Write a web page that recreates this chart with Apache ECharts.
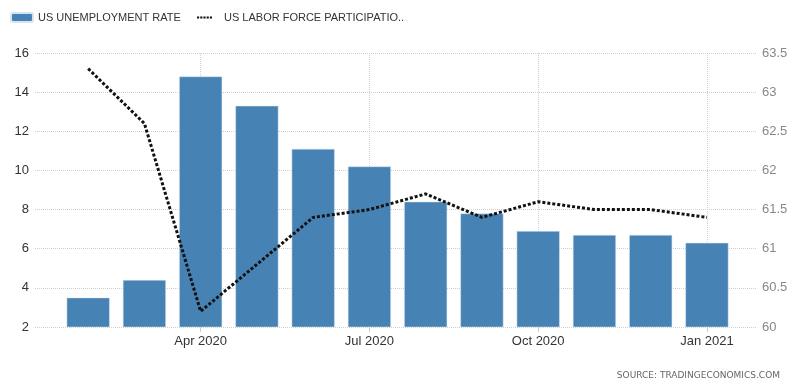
<!DOCTYPE html>
<html>
<head>
<meta charset="utf-8">
<script src="https://cdn.jsdelivr.net/npm/echarts@6/dist/echarts.min.js"></script>
<style>html,body{margin:0;padding:0;background:#fff}#c{width:800px;height:388px}</style>
</head>
<body>
<div id="c"></div>
<script>
var months = ['Feb 2020','Mar 2020','Apr 2020','May 2020','Jun 2020','Jul 2020','Aug 2020','Sep 2020','Oct 2020','Nov 2020','Dec 2020','Jan 2021'];
var unemployment = [3.5, 4.4, 14.8, 13.3, 11.1, 10.2, 8.4, 7.8, 6.9, 6.7, 6.7, 6.3];
var participation = [63.3, 62.6, 60.2, 60.8, 61.4, 61.5, 61.7, 61.4, 61.6, 61.5, 61.5, 61.4];
var labelMonths = [2, 5, 8, 11];
var leftTicks = [2, 16, 2];
var rightTicks = [60, 63.5, 0.5];
var name1 = 'US UNEMPLOYMENT RATE';
var name2 = 'US LABOR FORCE PARTICIPATIO..';

var chart = echarts.init(document.getElementById('c'), null, {renderer: 'canvas'});
var font = 'Liberation Sans, Arial, sans-serif';
var dotsIcon = 'path://M0,0h2v2h-2zM3,0h2v2h-2zM6,0h2v2h-2zM9,0h2v2h-2zM12,0h2v2h-2z';
chart.setOption({
  animation: false,
  textStyle: {fontFamily: font},
  legend: [
    {left: 10, top: 12, padding: 0, itemWidth: 22, itemHeight: 9, data: [name1],
     textStyle: {fontSize: 11, color: '#333', fontFamily: font}},
    {left: 197, top: 12, padding: 0, itemWidth: 15, itemHeight: 9,
     data: [{name: name2, icon: dotsIcon, itemStyle: {color: '#111', borderWidth: 0}}],
     textStyle: {fontSize: 11, color: '#333', fontFamily: font, padding: [0, 0, 0, 7]}}
  ],
  grid: {left: 35, right: 43, top: 53, bottom: 61},
  xAxis: {
    type: 'value', min: -0.945, max: 11.89,
    axisLine: {show: false},
    axisTick: {show: true, length: 5, customValues: labelMonths, lineStyle: {color: '#ccc'}},
    axisLabel: {customValues: labelMonths, margin: 8, fontSize: 13, color: '#333',
      formatter: function (v) { return months[Math.round(v)]; }},
    splitLine: {show: true, lineStyle: {color: '#d0d0d0', type: 'dotted', width: 1}}
  },
  yAxis: [
    {type: 'value', min: leftTicks[0], max: leftTicks[1], interval: leftTicks[2],
     axisLine: {show: false}, axisTick: {show: false},
     axisLabel: {fontSize: 13, color: '#333', margin: 6},
     splitLine: {lineStyle: {color: '#cfcfcf', type: 'dotted', width: 1}}},
    {type: 'value', min: rightTicks[0], max: rightTicks[1], interval: rightTicks[2],
     position: 'right',
     axisLine: {show: false}, axisTick: {show: false},
     axisLabel: {fontSize: 13, color: '#888', margin: 5},
     splitLine: {show: false}}
  ],
  series: [
    {name: name1, type: 'bar', yAxisIndex: 0, barWidth: 43,
     itemStyle: {color: '#4682b4', borderColor: '#d6e4f0', borderWidth: 0.5},
     data: unemployment.map(function (v, i) { return [i, v]; })},
    {name: name2, type: 'line', yAxisIndex: 1, symbol: 'none', z: 5,
     lineStyle: {color: '#111', width: 3, type: [3, 2]},
     itemStyle: {color: '#111'},
     data: participation.map(function (v, i) { return [i, v]; })}
  ],
  graphic: [
    {type: 'text', right: 20, bottom: 8,
     style: {text: 'SOURCE: TRADINGECONOMICS.COM', fontSize: 9, fill: '#666', fontFamily: 'DejaVu Sans, sans-serif'}}
  ]
});
</script>
</body>
</html>
